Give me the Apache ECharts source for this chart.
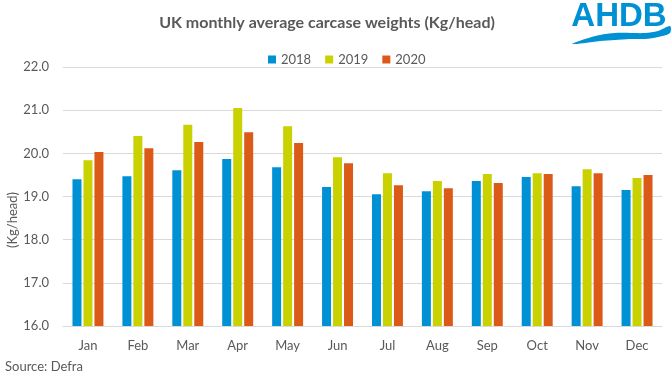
<!DOCTYPE html>
<html>
<head>
<meta charset="utf-8">
<script src="https://cdn.jsdelivr.net/npm/echarts@6/dist/echarts.min.js"></script>
<style>html,body{margin:0;padding:0;background:#fff}#c{width:672px;height:378px}</style>
</head>
<body>
<div id="c"></div>
<script>
const months = ['Jan','Feb','Mar','Apr','May','Jun','Jul','Aug','Sep','Oct','Nov','Dec'];
const w2018 = [19.40,19.47,19.61,19.87,19.68,19.22,19.05,19.12,19.36,19.45,19.24,19.15];
const w2019 = [19.84,20.40,20.66,21.05,20.63,19.91,19.54,19.36,19.52,19.54,19.63,19.43];
const w2020 = [20.03,20.12,20.26,20.49,20.24,19.77,19.26,19.19,19.31,19.52,19.54,19.50];
const yTicks = [16,17,18,19,20,21,22];

const FONT = 'Lato, "Open Sans", sans-serif';
const GREY = '#595959';
const chart = echarts.init(document.getElementById('c'), null, {renderer:'canvas'});
chart.setOption({
  animation: false,
  color: ['#0091D5','#C9D200','#DC5A17'],
  title: {
    text: 'UK monthly average carcase weights (Kg/head)',
    left: 322, top: 10, textAlign: 'center',
    textStyle: {fontFamily: FONT, fontSize: 16, fontWeight: 'bold', color: GREY}
  },
  legend: {
    top: 48, left: 263,
    itemWidth: 8, itemHeight: 8, itemGap: 14,
    icon: 'rect',
    textStyle: {fontFamily: FONT, fontSize: 13, color: GREY}
  },
  grid: {left: 63, right: 10, top: 67, bottom: 52, containLabel: false},
  xAxis: {
    type: 'category', data: months,
    axisLine: {lineStyle: {color: '#D9D9D9'}},
    axisTick: {show: false},
    axisLabel: {fontFamily: FONT, fontSize: 13, color: GREY, margin: 13}
  },
  yAxis: {
    type: 'value', min: yTicks[0], max: yTicks[yTicks.length-1], interval: 1,
    axisLine: {show: false}, axisTick: {show: false},
    splitLine: {lineStyle: {color: '#D9D9D9', width: 1}},
    axisLabel: {fontFamily: FONT, fontSize: 13, color: GREY, margin: 14,
      formatter: v => v.toFixed(1)}
  },
  series: [
    {name: '2018', type: 'bar', data: w2018, barWidth: 9, barGap: '22%'},
    {name: '2019', type: 'bar', data: w2019, barWidth: 9, barGap: '22%'},
    {name: '2020', type: 'bar', data: w2020, barWidth: 9, barGap: '22%'}
  ],
  graphic: [
    {type: 'text', x: 13, y: 220, rotation: Math.PI/2,
     style: {text: '(Kg/head)', fontFamily: FONT, fontSize: 13, fill: GREY, align: 'center', verticalAlign: 'middle'}},
    {type: 'text', x: 5, y: 367,
     style: {text: 'Source: Defra', fontFamily: FONT, fontSize: 13, fill: GREY, align: 'left', verticalAlign: 'middle'}},
    {type: 'text', x: 619, y: 17,
     style: {text: 'AHDB', fontFamily: '"Liberation Sans", Arial, sans-serif', fontSize: 33, fontWeight: 'bold', fill: '#0090D4', align: 'center', verticalAlign: 'middle'}},
    {type: 'polygon',
     shape: {smooth: 0.3, points: [[572,44],[585,39],[600,35],[615,33],[630,33],[645,33],[658,31],[670,26],
                                   [670,33],[658,37],[645,39],[630,39],[615,40],[600,41],[585,43]]},
     style: {fill: '#0090D4'}}
  ]
});
</script>
</body>
</html>
